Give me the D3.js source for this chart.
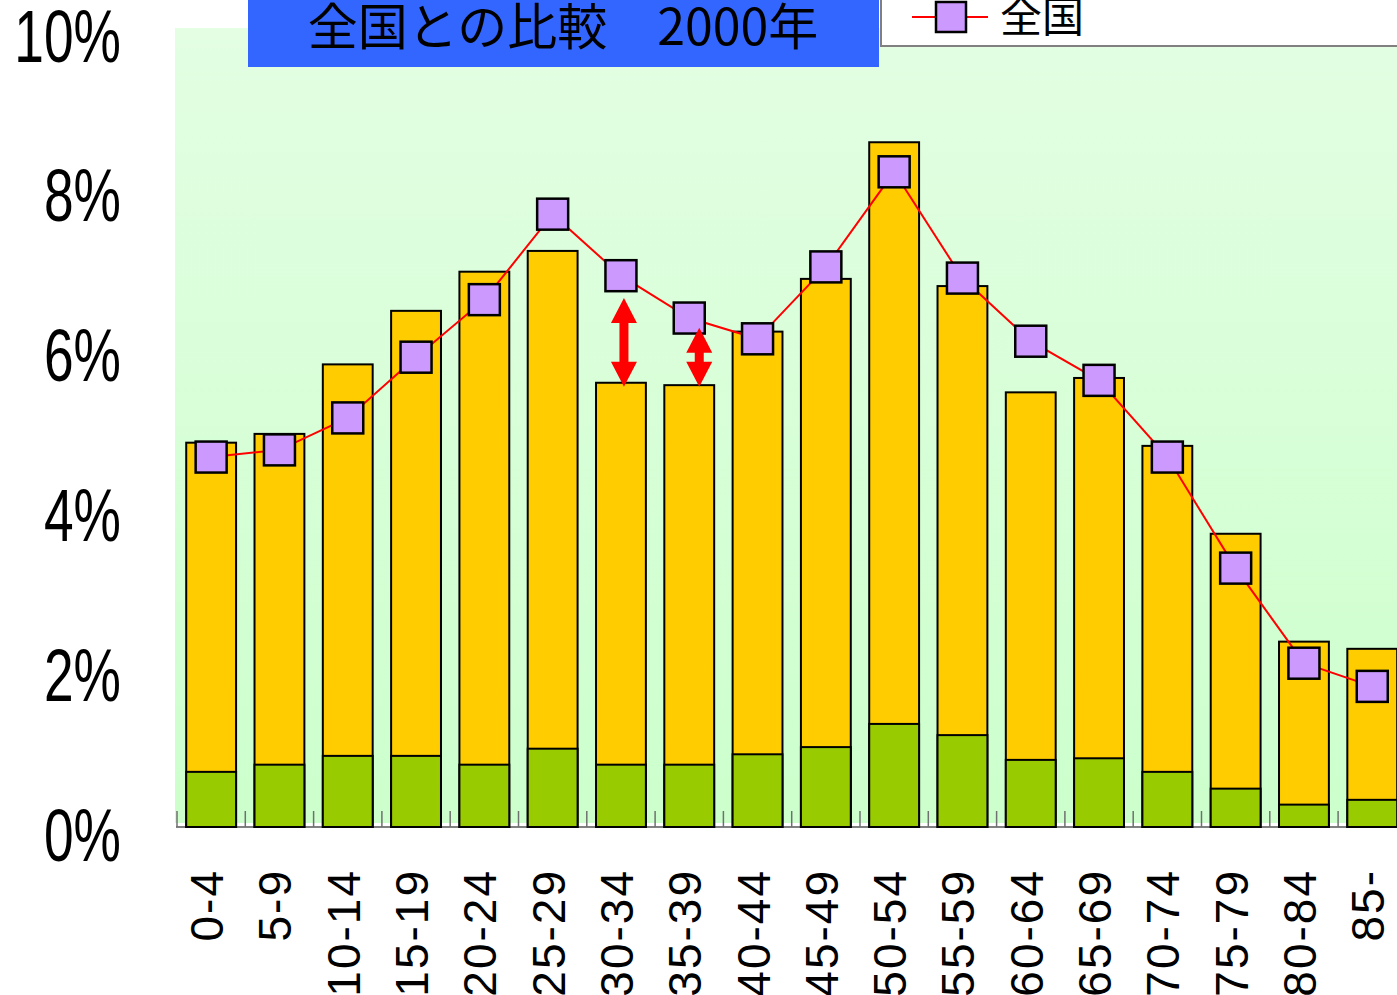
<!DOCTYPE html>
<html>
<head>
<meta charset="utf-8">
<script src="https://cdn.jsdelivr.net/npm/d3@7"></script>
<style>
  body { margin: 0; background: #fff; }
  svg { display: block; }
</style>
</head>
<body>
<div id="chart"></div>
<script>
// age groups on the x axis
const ageGroups = ["0-4", "5-9", "10-14", "15-19", "20-24", "25-29", "30-34", "35-39", "40-44",
  "45-49", "50-54", "55-59", "60-64", "65-69", "70-74", "75-79", "80-84", "85-"];

// bar totals (yellow top) and lower green part, in %
const barTotal = [4.81, 4.92, 5.79, 6.46, 6.95, 7.21, 5.56, 5.53, 6.20,
  6.86, 8.57, 6.77, 5.44, 5.62, 4.77, 3.67, 2.32, 2.23];
const barLower = [0.69, 0.78, 0.89, 0.89, 0.78, 0.98, 0.78, 0.78, 0.91,
  1.00, 1.29, 1.15, 0.84, 0.86, 0.69, 0.48, 0.28, 0.34];

// 全国 line
const nationalShare = [4.63, 4.72, 5.12, 5.88, 6.60, 7.67, 6.90, 6.37, 6.11,
  7.01, 8.20, 6.87, 6.08, 5.59, 4.63, 3.24, 2.05, 1.76];

// gap arrows: group, top value, bottom value
const arrowGroups = ["30-34", "35-39"];
const arrowTop = [6.62, 6.25];
const arrowBottom = [5.51, 5.51];

const yTicks = [0, 2, 4, 6, 8, 10];
const titleText = "全国との比較　2000年";
const legendLabel = "全国";

const W = 1397, H = 995;

const svg = d3.select('#chart')
  .append('svg')
  .attr('width', W)
  .attr('height', H);

const x = d3.scaleBand()
  .domain(ageGroups)
  .range([177, 177 + 18 * 68.3])
  .paddingInner(0.27)
  .paddingOuter(0.135);

const y = d3.scaleLinear()
  .domain([0, 10])
  .range([827, 28]);

// plot background gradient
const grad = svg.append('defs').append('linearGradient')
  .attr('id', 'bg').attr('x1', 0).attr('y1', 0).attr('x2', 0).attr('y2', 1);
grad.append('stop').attr('offset', '0%').attr('stop-color', '#e3fee3');
grad.append('stop').attr('offset', '100%').attr('stop-color', '#ccffcc');

svg.append('rect')
  .attr('x', 175).attr('y', y(10))
  .attr('width', W - 175).attr('height', 823 - y(10))
  .attr('fill', 'url(#bg)');

// x axis line and ticks between bands
svg.append('line')
  .attr('x1', 176).attr('x2', W)
  .attr('y1', y(0)).attr('y2', y(0))
  .attr('stroke', '#808080').attr('stroke-width', 2);

const step = x.step();
svg.append('g').selectAll('line')
  .data(ageGroups)
  .join('line')
  .attr('x1', d => x(d) - step * x.paddingInner() / 2)
  .attr('x2', d => x(d) - step * x.paddingInner() / 2)
  .attr('y1', y(0) - 16).attr('y2', y(0))
  .attr('stroke', '#707070').attr('stroke-width', 1.5);

// bars: yellow total then green lower part
const bars = svg.append('g');
bars.selectAll('rect.total')
  .data(ageGroups)
  .join('rect')
  .attr('class', 'total')
  .attr('x', d => x(d))
  .attr('width', x.bandwidth())
  .attr('y', (d, i) => y(barTotal[i]))
  .attr('height', (d, i) => y(0) - y(barTotal[i]))
  .attr('fill', '#ffcc00')
  .attr('stroke', '#000').attr('stroke-width', 2);

bars.selectAll('rect.lower')
  .data(ageGroups)
  .join('rect')
  .attr('class', 'lower')
  .attr('x', d => x(d))
  .attr('width', x.bandwidth())
  .attr('y', (d, i) => y(barLower[i]))
  .attr('height', (d, i) => y(0) - y(barLower[i]))
  .attr('fill', '#99cc00')
  .attr('stroke', '#000').attr('stroke-width', 2);

// national line + square markers
const cx = d => x(d) + x.bandwidth() / 2;
const line = d3.line()
  .x((d, i) => cx(ageGroups[i]))
  .y(d => y(d));

svg.append('path')
  .datum(nationalShare)
  .attr('d', line)
  .attr('fill', 'none')
  .attr('stroke', '#ff0000')
  .attr('stroke-width', 2);

const mk = 31;
svg.append('g').selectAll('rect')
  .data(nationalShare)
  .join('rect')
  .attr('x', (d, i) => cx(ageGroups[i]) - mk / 2)
  .attr('y', d => y(d) - mk / 2)
  .attr('width', mk).attr('height', mk)
  .attr('fill', '#cc99ff')
  .attr('stroke', '#000').attr('stroke-width', 2.5);

// red double arrows
const arrowNudge = [3, 10];
function doubleArrow(ax, y1, y2) {
  const hw = 13, sw = 4.5, hl = 25;
  return `M${ax},${y1} L${ax + hw},${y1 + hl} L${ax + sw},${y1 + hl} L${ax + sw},${y2 - hl} ` +
    `L${ax + hw},${y2 - hl} L${ax},${y2} L${ax - hw},${y2 - hl} L${ax - sw},${y2 - hl} ` +
    `L${ax - sw},${y1 + hl} L${ax - hw},${y1 + hl} Z`;
}
svg.append('g').selectAll('path')
  .data(arrowGroups)
  .join('path')
  .attr('d', (d, i) => doubleArrow(cx(d) + arrowNudge[i], y(arrowTop[i]), y(arrowBottom[i])))
  .attr('fill', '#ff0000');

// y axis labels (condensed)
const yAxis = svg.append('g')
  .attr('transform', 'translate(121,0)')
  .call(d3.axisLeft(y).tickValues(yTicks).tickFormat(d => d + '%').tickSize(0).tickPadding(0));
yAxis.select('.domain').remove();
yAxis.selectAll('text')
  .attr('dy', null)
  .attr('y', 33)
  .attr('transform', 'scale(0.72,1)')
  .style('font-family', 'Arial, "Liberation Sans", sans-serif')
  .style('font-size', '74px')
  .attr('fill', '#000');

// x labels rotated
svg.append('g').selectAll('text')
  .data(ageGroups)
  .join('text')
  .attr('transform', d => `translate(${cx(d) + 12},869) rotate(-90)`)
  .attr('text-anchor', 'end')
  .style('font-family', 'Arial, "Liberation Sans", sans-serif')
  .style('font-size', '46px')
  .style('letter-spacing', '2px')
  .text(d => d);

// title box
svg.append('rect')
  .attr('x', 248).attr('y', 0)
  .attr('width', 631).attr('height', 67)
  .attr('fill', '#3366ff');
svg.append('text')
  .attr('x', 563).attr('y', 45)
  .attr('text-anchor', 'middle')
  .style('font-family', '"Noto Sans CJK JP", sans-serif')
  .style('font-size', '50px')
  .text(titleText);

// legend box
svg.append('rect')
  .attr('x', 881).attr('y', -10)
  .attr('width', W).attr('height', 56)
  .attr('fill', '#fff')
  .attr('stroke', '#808080').attr('stroke-width', 2);
svg.append('line')
  .attr('x1', 912).attr('x2', 988)
  .attr('y1', 17).attr('y2', 17)
  .attr('stroke', '#ff0000').attr('stroke-width', 2);
svg.append('rect')
  .attr('x', 951 - 15).attr('y', 17 - 15)
  .attr('width', 30).attr('height', 30)
  .attr('fill', '#cc99ff')
  .attr('stroke', '#000').attr('stroke-width', 2.5);
svg.append('text')
  .attr('x', 1000).attr('y', 32)
  .style('font-family', '"Noto Sans CJK JP", sans-serif')
  .style('font-size', '42px')
  .text(legendLabel);
</script>
</body>
</html>
